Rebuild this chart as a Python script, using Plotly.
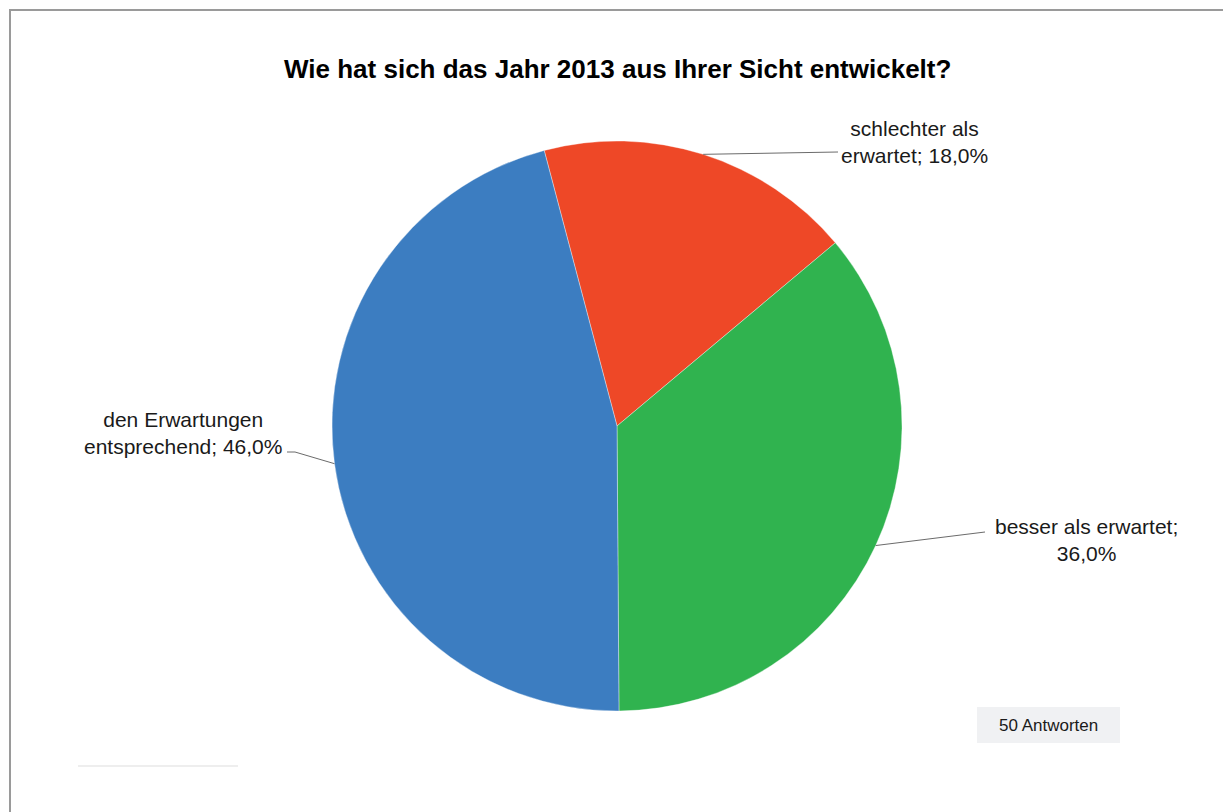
import math
import plotly.graph_objects as go

# ---- data ----
categories = ["schlechter als erwartet", "besser als erwartet", "den Erwartungen entsprechend"]
values = [18.0, 36.0, 46.0]
label_lines = [["schlechter als", "erwartet; {v}"],
               ["besser als erwartet;", "{v}"],
               ["den Erwartungen", "entsprechend; {v}"]]
colors = ["#EE4827", "#30B34F", "#3C7DC1"]
title_text = "Wie hat sich das Jahr 2013 aus Ihrer Sicht entwickelt?"
note_text = "50 Antworten"

# ---- layout geometry (pixels) ----
W, H = 1223, 812
cx, cy, R = 617, 426, 285
rotation = -14.8
FONT = "Liberation Sans, Arial, sans-serif"

def px(x):
    return x / W

def py(y):
    return 1 - y / H

def fmt(v):
    return f"{v:.1f}".replace(".", ",") + "%"

# label anchors (text centre) and leader-line end points near text
label_pos = [(915, 142), (1086, 540), (183, 433)]
line_ends = [[(838, 152)], [(985, 532)], [(295, 452), (287, 452)]]

fig = go.Figure(go.Pie(
    labels=categories,
    values=values,
    sort=False,
    direction="clockwise",
    rotation=rotation,
    textinfo="none",
    hoverinfo="label+percent",
    marker=dict(colors=colors, line=dict(color="rgba(255,255,255,0.6)", width=0.6)),
    domain=dict(x=[px(cx - R), px(cx + R)], y=[py(cy + R), py(cy - R)]),
    showlegend=False,
))

shapes = []
annotations = []
total = sum(values)
cum = 0.0
for i, v in enumerate(values):
    mid = rotation + (cum + v / 2) / total * 360
    cum += v
    a = math.radians(mid)
    x0, y0 = cx + R * math.sin(a), cy - R * math.cos(a)
    pts = [(x0, y0)] + line_ends[i]
    for (xa, ya), (xb, yb) in zip(pts[:-1], pts[1:]):
        shapes.append(dict(type="line", xref="paper", yref="paper",
                           x0=px(xa), y0=py(ya), x1=px(xb), y1=py(yb),
                           line=dict(color="#6b6b6b", width=1)))
    txt = "<br>".join(l.format(v=fmt(v)) for l in label_lines[i])
    lx, ly = label_pos[i]
    annotations.append(dict(xref="paper", yref="paper", x=px(lx), y=py(ly),
                            xanchor="center", yanchor="middle", align="center",
                            showarrow=False, text=txt,
                            font=dict(family=FONT, size=21, color="#1a1a1a")))

# title
annotations.append(dict(xref="paper", yref="paper", x=px(617), y=py(69),
                        xanchor="center", yanchor="middle", showarrow=False,
                        text="<b>" + title_text + "</b>",
                        font=dict(family=FONT, size=26, color="#000000")))

# note box
shapes.append(dict(type="rect", xref="paper", yref="paper",
                   x0=px(977), x1=px(1120), y0=py(743), y1=py(707),
                   fillcolor="#F0F1F3", line=dict(width=0), layer="below"))
annotations.append(dict(xref="paper", yref="paper", x=px(1048), y=py(725),
                        xanchor="center", yanchor="middle", showarrow=False,
                        text=note_text,
                        font=dict(family=FONT, size=17, color="#1a1a1a")))

# faint line bottom-left
shapes.append(dict(type="line", xref="paper", yref="paper",
                   x0=px(78), x1=px(238), y0=py(766), y1=py(766),
                   line=dict(color="#eeeeee", width=2)))
# frame (left + top)
shapes.append(dict(type="line", xref="paper", yref="paper",
                   x0=px(10), x1=px(10), y0=py(10), y1=py(H + 5),
                   line=dict(color="#9a9a9a", width=2)))
shapes.append(dict(type="line", xref="paper", yref="paper",
                   x0=px(9), x1=px(W + 5), y0=py(10), y1=py(10),
                   line=dict(color="#9a9a9a", width=2)))

fig.update_layout(
    width=W, height=H,
    margin=dict(l=0, r=0, t=0, b=0),
    paper_bgcolor="white", plot_bgcolor="white",
    shapes=shapes, annotations=annotations,
)

fig.write_html("out.html")
